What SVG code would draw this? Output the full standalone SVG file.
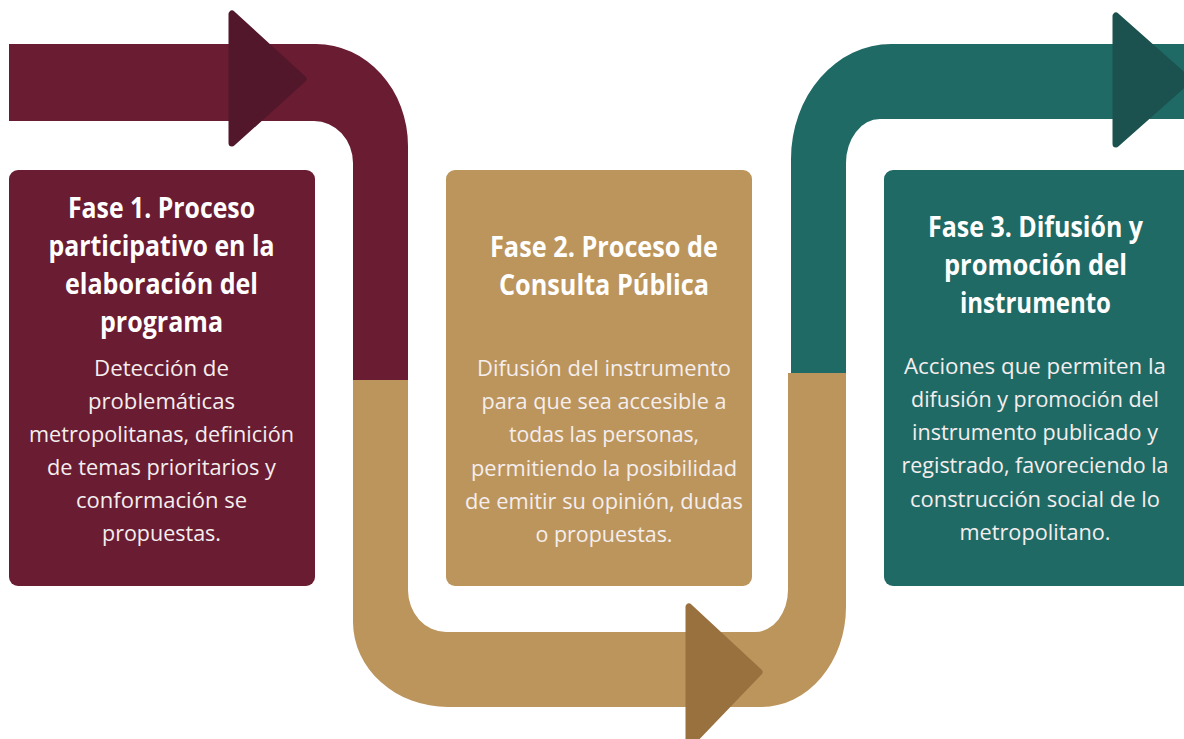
<svg xmlns="http://www.w3.org/2000/svg" width="1184" height="739" viewBox="0 0 1184 739">
<style>
.t{font-family:"Open Sans","Liberation Sans",sans-serif;font-weight:700;font-size:28px;fill:#ffffff;text-anchor:middle}
.b{font-family:"Open Sans","Liberation Sans",sans-serif;font-weight:400;font-size:22px;fill:#f4eeee;text-anchor:middle}
.head{stroke-linejoin:round;stroke-width:7}
</style>
<rect width="1184" height="739" fill="#ffffff"/>
<g id="connectors">
  <path d="M9,44 H316 A92,102 0 0 1 408,146 V380 H353 V163 A39,42 0 0 0 314,121 H9 Z" fill="#6a1c32"/>
  <path d="M353,380 H408 V590 A38,42 0 0 0 446,632 H755 A33,42 0 0 0 788,590 V373 H846 V607 A85,100 0 0 1 761,707 H448 A95,85 0 0 1 353,622 Z" fill="#bc955c"/>
  <path d="M791,373 V159 A100,115 0 0 1 891,44 H1190 V119 H880 A34,44 0 0 0 846,163 V373 Z" fill="#206a66"/>
  <polygon class="head" points="232,14 232,143 303,79" fill="#52172a" stroke="#52172a"/>
  <polygon class="head" points="689,607 689,745 759,672" fill="#98713f" stroke="#98713f"/>
  <polygon class="head" points="1116,16 1116,144 1188,80" fill="#1b5250" stroke="#1b5250"/>
</g>
<g id="fase1">
  <rect x="9" y="170" width="306" height="416" rx="9" fill="#6a1c32"/>
  <text class="t" x="161.5" y="218" textLength="187" lengthAdjust="spacingAndGlyphs">Fase 1. Proceso</text>
  <text class="t" x="161.5" y="256" textLength="226" lengthAdjust="spacingAndGlyphs">participativo en la</text>
  <text class="t" x="161.5" y="294" textLength="193" lengthAdjust="spacingAndGlyphs">elaboración del</text>
  <text class="t" x="161.5" y="332" textLength="123" lengthAdjust="spacingAndGlyphs">programa</text>
  <text class="b" x="161.5" y="376" textLength="135" lengthAdjust="spacingAndGlyphs">Detección de</text>
  <text class="b" x="161.5" y="409" textLength="147" lengthAdjust="spacingAndGlyphs">problemáticas</text>
  <text class="b" x="161.5" y="442" textLength="265" lengthAdjust="spacingAndGlyphs">metropolitanas, definición</text>
  <text class="b" x="161.5" y="475" textLength="229" lengthAdjust="spacingAndGlyphs">de temas prioritarios y</text>
  <text class="b" x="161.5" y="508" textLength="171" lengthAdjust="spacingAndGlyphs">conformación se</text>
  <text class="b" x="161.5" y="541" textLength="119" lengthAdjust="spacingAndGlyphs">propuestas.</text>
</g>
<g id="fase2">
  <rect x="446" y="170" width="306" height="416" rx="9" fill="#bc955c"/>
  <text class="t" x="604" y="257" textLength="228" lengthAdjust="spacingAndGlyphs">Fase 2. Proceso de</text>
  <text class="t" x="604" y="295" textLength="210" lengthAdjust="spacingAndGlyphs">Consulta Pública</text>
  <text class="b" x="604" y="376" textLength="254" lengthAdjust="spacingAndGlyphs">Difusión del instrumento</text>
  <text class="b" x="604" y="409" textLength="245" lengthAdjust="spacingAndGlyphs">para que sea accesible a</text>
  <text class="b" x="604" y="442" textLength="190" lengthAdjust="spacingAndGlyphs">todas las personas,</text>
  <text class="b" x="604" y="476" textLength="266" lengthAdjust="spacingAndGlyphs">permitiendo la posibilidad</text>
  <text class="b" x="604" y="509" textLength="278" lengthAdjust="spacingAndGlyphs">de emitir su opinión, dudas</text>
  <text class="b" x="604" y="542" textLength="137" lengthAdjust="spacingAndGlyphs">o propuestas.</text>
</g>
<g id="fase3">
  <rect x="884" y="170" width="310" height="416" rx="9" fill="#206a66"/>
  <text class="t" x="1035.5" y="237" textLength="215" lengthAdjust="spacingAndGlyphs">Fase 3. Difusión y</text>
  <text class="t" x="1035.5" y="275" textLength="183" lengthAdjust="spacingAndGlyphs">promoción del</text>
  <text class="t" x="1035.5" y="313" textLength="151" lengthAdjust="spacingAndGlyphs">instrumento</text>
  <text class="b" x="1035" y="374" textLength="262" lengthAdjust="spacingAndGlyphs">Acciones que permiten la</text>
  <text class="b" x="1035" y="407" textLength="248" lengthAdjust="spacingAndGlyphs">difusión y promoción del</text>
  <text class="b" x="1035" y="440" textLength="246" lengthAdjust="spacingAndGlyphs">instrumento publicado y</text>
  <text class="b" x="1035" y="473" textLength="267" lengthAdjust="spacingAndGlyphs">registrado, favoreciendo la</text>
  <text class="b" x="1035" y="507" textLength="250" lengthAdjust="spacingAndGlyphs">construcción social de lo</text>
  <text class="b" x="1035" y="540" textLength="151" lengthAdjust="spacingAndGlyphs">metropolitano.</text>
</g>
</svg>
